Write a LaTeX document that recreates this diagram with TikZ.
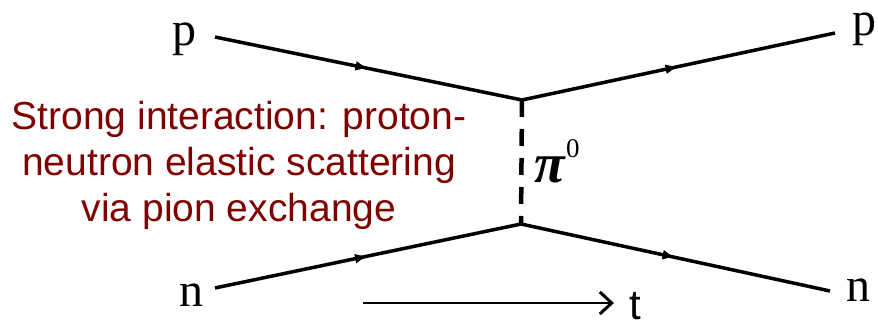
\documentclass[tikz,border=0pt]{standalone}
\usepackage{fontspec}
\setmainfont{Liberation Serif}
\setsansfont{Liberation Sans}
\usetikzlibrary{arrows.meta,decorations.markings}
\definecolor{txtred}{RGB}{128,0,0}
\tikzset{
  fermion/.style={line width=3.5pt,
    postaction={decorate,decoration={markings,mark=at position 0.5 with {\arrow{Latex[length=13pt,width=10pt]}}}}},
  boson/.style={line width=4.5pt,dash pattern=on 17pt off 12pt},
  plabel/.style={font=\fontsize{48}{48}\selectfont,inner sep=0pt,anchor=base west},
}
\begin{document}
\begin{tikzpicture}[x=1pt,y=-1pt]
\useasboundingbox (0,0) rectangle (878,328);
% endpoints
\coordinate (a1) at (215,37);
\coordinate (a2) at (835,33);
\coordinate (b1) at (215,288);
\coordinate (b2) at (830,291);
\coordinate (v1) at (522,100);
\coordinate (v2) at (521,224);
\coordinate (t1) at (363,303);
\coordinate (t2) at (614,303);
% labels
\node[plabel] (lp1) at (172,46) {p};
\node[plabel] (lp2) at (852,36) {p};
\node[plabel] (ln1) at (179,307) {n};
\node[plabel] (ln2) at (846,302) {n};
% lines
\draw[fermion] (a1) -- (v1);
\draw[fermion] (v1) -- (a2);
\draw[fermion] (b1) -- (v2);
\draw[fermion] (v2) -- (b2);
\draw[boson] (v1) -- (v2);
\node[inner sep=0pt,anchor=base west,font=\bfseries\itshape\fontsize{56}{56}\selectfont] (pi) at (534,183) {π};
\node[inner sep=0pt,anchor=base west,font=\fontsize{27}{27}\selectfont] (pizero) at (566,158) {0};
% time arrow
\draw[line width=2pt,-{Straight Barb[length=12pt,width=22pt,line width=3pt]}] (t1) -- (t2);
\node[inner sep=0pt,anchor=base west,font=\sffamily\fontsize{42}{42}\selectfont] (t) at (629,320) {t};
% caption
\node[align=center,text=txtred,inner sep=0pt,font=\sffamily\fontsize{39}{46}\selectfont] (cap) at (239,165)
  {Strong interaction: proton-\\neutron elastic scattering\\via pion exchange};
\end{tikzpicture}
\end{document}
